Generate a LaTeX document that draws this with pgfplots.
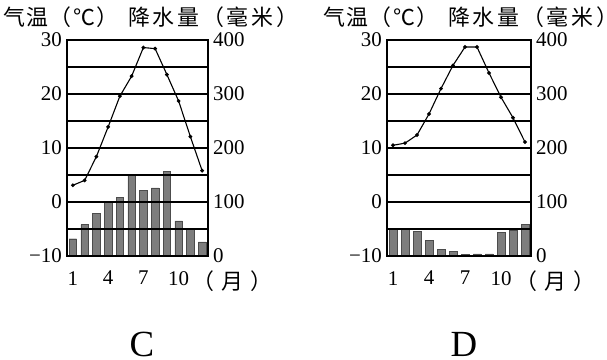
\documentclass[border=0pt]{standalone}
\usepackage{pgfplots}
\pgfplotsset{compat=1.18}
\usepackage{pgfplotstable}
\usepackage{fontspec}
\setmainfont{Liberation Serif}
\newfontfamily\cjk{Noto Sans CJK SC}

\pgfplotstableread{
m T P
1 3.1 32
2 4.0 58
3 8.4 79
4 13.9 100
5 19.6 108
6 23.3 150
7 28.6 122
8 28.4 126
9 23.6 157
10 18.7 65
11 12.1 49
12 5.8 26
}\dataC

\pgfplotstableread{
m T P
1 10.5 50
2 10.9 50
3 12.4 45
4 16.3 29
5 21.0 12
6 25.3 8
7 28.7 3
8 28.7 4
9 23.9 4
10 19.4 44
11 15.6 48
12 11.1 59
}\dataD

\definecolor{bargray}{RGB}{125,125,125}

\pgfplotsset{
  base/.style={scale only axis, height=216bp, xmin=0.5, xmax=12.5,
    font=\fontsize{21}{21}\selectfont, major tick length=0pt,
    axis line style={line width=1.6bp}},
  prec/.style={base, ymin=0, ymax=400, axis x line=none, axis y line*=right,
    ytick={0,100,200,300,400}, yticklabels={0,100,200,300,400},
    yticklabel style={anchor=west, inner sep=0pt, xshift=5bp},
    ybar, bar width=7.5bp},
  temp/.style={base, ymin=-10, ymax=30, ytick={-10,-5,...,30},
    yticklabels={−10,,0,,10,,20,,30},
    xtick={1,4,7,10}, xticklabels={1,4,7,10},
    ymajorgrids, grid style={black, line width=1.6bp},
    yticklabel style={anchor=east, inner sep=0pt, xshift=-5bp},
    xticklabel style={anchor=north, inner sep=0pt, yshift=-15bp}},
}

\begin{document}
\begin{tikzpicture}[x=1bp,y=1bp]
\useasboundingbox (0bp,0bp) rectangle (607bp,360bp);

% ---- Chart C ----
\begin{axis}[prec, width=141bp, at={(67bp,104bp)}, anchor=south west]
\addplot[fill=bargray, draw=black!70] table[x=m,y=P]{\dataC};
\end{axis}
\begin{axis}[temp, width=141bp, at={(67bp,104bp)}, anchor=south west]
\addplot[black, line width=1.1bp, mark=*, mark size=1.3bp] table[x=m,y=T]{\dataC};
\end{axis}

% ---- Chart D ----
\begin{axis}[prec, width=144bp, at={(387bp,104bp)}, anchor=south west]
\addplot[fill=bargray, draw=black!70] table[x=m,y=P]{\dataD};
\end{axis}
\begin{axis}[temp, width=144bp, at={(387bp,104bp)}, anchor=south west]
\addplot[black, line width=1.1bp, mark=*, mark size=1.3bp] table[x=m,y=T]{\dataD};
\end{axis}

% titles
\foreach \dx in {0bp,320bp}{
  \node[anchor=base west, inner sep=0pt, xshift=\dx, font=\cjk\fontsize{22}{22}\selectfont] at (3bp,334.6bp)
    {\hbox to 115bp{气\hfill 温\hfill （\hfill ℃\hfill ）}};
  \node[anchor=base west, inner sep=0pt, xshift=\dx, font=\cjk\fontsize{22}{22}\selectfont] at (128bp,334.6bp)
    {\hbox to 148bp{降\hfill 水\hfill 量\hfill （\hfill 毫\hfill 米\hfill \rlap{）}}};
}
% month unit
\node[anchor=base west, inner sep=0pt, font=\cjk\fontsize{22}{22}\selectfont] at (192bp,70.5bp)
  {\hbox to 80bp{（\hfill 月\hfill ）}};
\node[anchor=base west, inner sep=0pt, font=\cjk\fontsize{22}{22}\selectfont] at (515bp,70.5bp)
  {\hbox to 80bp{（\hfill 月\hfill ）}};

% panel letters
\node[anchor=base, inner sep=0pt, font=\fontsize{37}{37}\selectfont] at (142bp,4bp) {C};
\node[anchor=base, inner sep=0pt, font=\fontsize{37}{37}\selectfont] at (464bp,4bp) {D};
\end{tikzpicture}
\end{document}
